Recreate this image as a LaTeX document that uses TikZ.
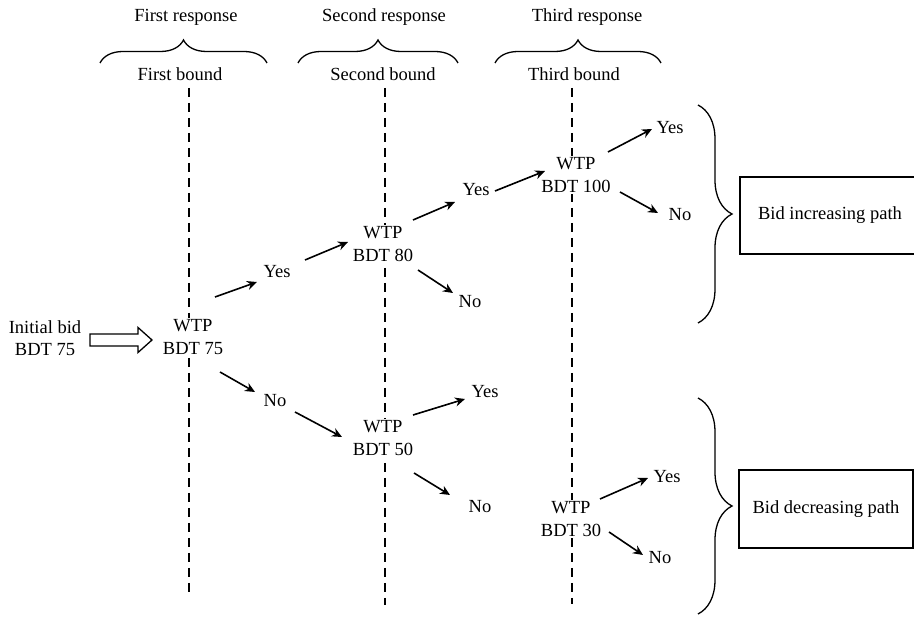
\documentclass[tikz,border=0pt]{standalone}
\usepackage{fontspec}
\setmainfont{Liberation Serif}
\usetikzlibrary{arrows.meta,decorations.pathreplacing}
\begin{document}
\begin{tikzpicture}[x=1pt,y=-1pt,
  lbl/.style={font=\fontsize{18.5}{22.5}\selectfont, align=center, inner sep=1pt},
  wtp/.style={lbl, fill=white, inner sep=2pt},
  arr/.style={line width=1.6pt, -{Stealth[length=10pt,width=9pt]}},
  vdash/.style={line width=1.3pt, dash pattern=on 9pt off 6pt},
  brc/.style={decorate, decoration={brace, amplitude=#1}, line width=1.3pt},
  brc/.default=23,
  hollow/.style={draw, line width=1.3pt, line join=miter},
  pathbox/.style={lbl, draw, line width=1.3pt, inner sep=0pt}]
\useasboundingbox (0,0) rectangle (914,617);

% column headers
\node[lbl] (r1) at (186,17) {First response};
\node[lbl] (r2) at (384,17) {Second response};
\node[lbl] (r3) at (587,17) {Third response};
\draw[brc=23] (100,63) -- (267,63);
\draw[brc=23] (298,63) -- (458,63);
\draw[brc=23] (495,63) -- (661,63);
\node[lbl] (b1) at (180,74) {First bound};
\node[lbl] (b2) at (383,74) {Second bound};
\node[lbl] (b3) at (574,74) {Third bound};

% dashed columns
\draw[vdash] (189,88) -- (189,595);
\draw[vdash] (385,88) -- (385,605);
\draw[vdash] (572,88) -- (572,604);

% nodes
\node[lbl] (init) at (45,338) {Initial bid\\BDT 75};
\node[wtp] (w75) at (193,337) {WTP\\BDT 75};
\node[lbl] (y1) at (277,272) {Yes};
\node[lbl] (n1) at (275,401) {No};
\node[wtp] (w80) at (383,244) {WTP\\BDT 80};
\node[lbl] (y2) at (476,190) {Yes};
\node[lbl] (n2) at (470,302) {No};
\node[wtp] (w100) at (576,175) {WTP\\BDT 100};
\node[lbl] (y3) at (670,128) {Yes};
\node[lbl] (n3) at (680,215) {No};
\node[wtp] (w50) at (383,438) {WTP\\BDT 50};
\node[lbl] (y4) at (485,392) {Yes};
\node[lbl] (n4) at (480,507) {No};
\node[wtp] (w30) at (571,519) {WTP\\BDT 30};
\node[lbl] (y5) at (667,477) {Yes};
\node[lbl] (n5) at (660,558) {No};

% hollow initial arrow
\coordinate (ha) at (90,340);
\draw[hollow] (ha) ++(0,-6) -- ++(48,0) -- ++(0,-6.5) -- ++(14,12.5)
      -- ++(-14,12.5) -- ++(0,-6.5) -- ++(-48,0) -- cycle;

% arrows
\draw[arr] ([shift={(22,-40)}]w75.center) -- ([shift={(-20,10)}]y1.center);
\draw[arr] ([shift={(28,-12)}]y1.center) -- ([shift={(-35,-2)}]w80.center);
\draw[arr] ([shift={(30,-24)}]w80.center) -- ([shift={(-21,12)}]y2.center);
\draw[arr] ([shift={(19,1)}]y2.center) -- ([shift={(-31,-4)}]w100.center);
\draw[arr] ([shift={(32,-23)}]w100.center) -- ([shift={(-18,1)}]y3.center);
\draw[arr] ([shift={(44,17)}]w100.center) -- ([shift={(-22,-2)}]n3.center);
\draw[arr] ([shift={(35,26)}]w80.center) -- ([shift={(-17,-9)}]n2.center);
\draw[arr] ([shift={(27,35)}]w75.center) -- ([shift={(-20,-9)}]n1.center);
\draw[arr] ([shift={(20,11)}]n1.center) -- ([shift={(-41,-1)}]w50.center);
\draw[arr] ([shift={(30,-23)}]w50.center) -- ([shift={(-20,7)}]y4.center);
\draw[arr] ([shift={(31,35)}]w50.center) -- ([shift={(-30,-12)}]n4.center);
\draw[arr] ([shift={(29,-20)}]w30.center) -- ([shift={(-19,1)}]y5.center);
\draw[arr] ([shift={(38,13)}]w30.center) -- ([shift={(-17,-3)}]n5.center);

% right braces and boxes
\draw[brc=34] (698,105) -- (698,323);
\draw[brc=34] (698,398) -- (698,614);
\node[pathbox, minimum width=180pt, minimum height=77pt] (inc) at (830,215.5) {Bid increasing path};
\node[pathbox, minimum width=174pt, minimum height=78pt] (dec) at (826,509) {Bid decreasing path};
\end{tikzpicture}
\end{document}
